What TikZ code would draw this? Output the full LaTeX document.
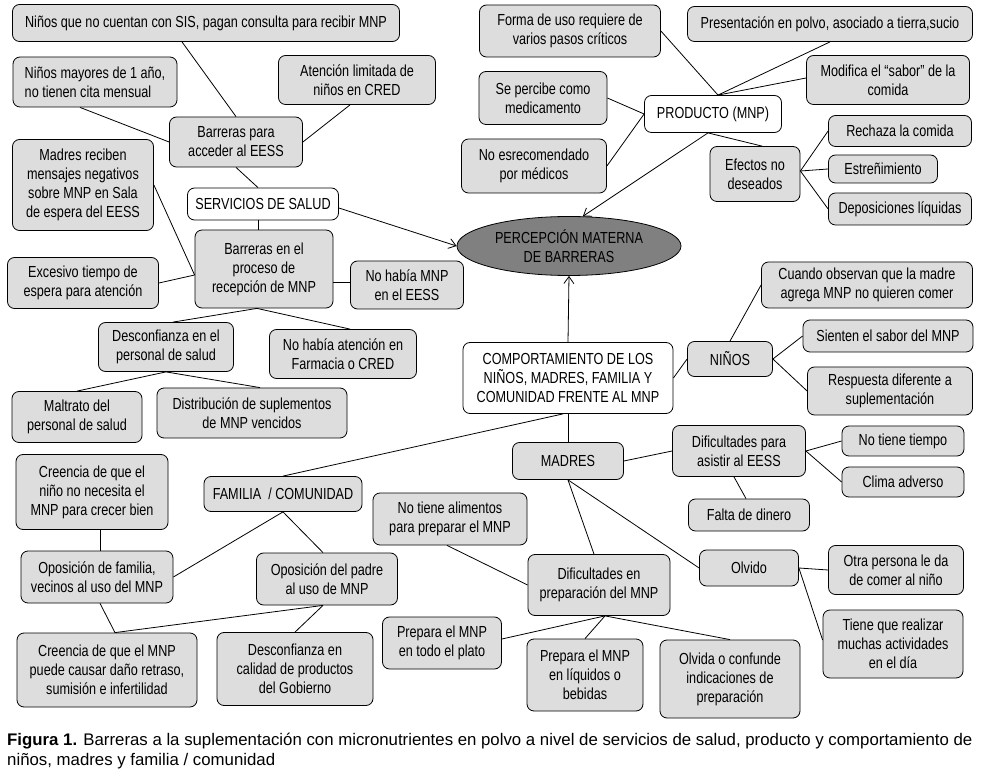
\documentclass[tikz,border=0pt]{standalone}
\usepackage{fontspec}
\setmainfont{Liberation Sans}[FakeStretch=0.79]
\newfontfamily\captionfont{Liberation Sans}
\usetikzlibrary{shapes.geometric,arrows.meta}
\definecolor{boxgray}{RGB}{221,221,221}
\definecolor{ovalgray}{RGB}{128,128,128}
\tikzset{
   caja/.style = {
      draw,
      rounded corners = 7pt,
      fill        = boxgray,
      align       = center,
      inner sep   = 2pt,
      line width  = 0.8pt,
      font        = \fontsize{16}{19}\selectfont
   },
   cajab/.style  = {caja, fill=white},
   linea/.style  = {line width=0.8pt},
   flecha/.style = {linea, -{Straight Barb[length=7pt,width=10pt]}}
}

\begin{document}
\begin{tikzpicture}[x=1pt, y=-1pt]
   \fill[white] (0,0) rectangle (983,775);
   \useasboundingbox (0,0) rectangle (983,775);

   % servicios de salud
   \node[caja, minimum width=387, minimum height=37] (sis) at (206,23) {Niños que no cuentan con SIS, pagan consulta para recibir MNP};
   \node[caja, minimum width=164, minimum height=50, align=left] (mayores) at (95,82) {Niños mayores de 1 año,\\no tienen cita mensual};
   \node[caja, minimum width=157, minimum height=49] (limitada) at (357,80) {Atención limitada de\\niños en CRED};
   \node[caja, minimum width=133, minimum height=50] (acceso) at (236,142) {Barreras para\\acceder al EESS};
   \node[caja, minimum width=141, minimum height=91] (mensajes) at (83,185) {Madres reciben\\mensajes negativos\\sobre MNP en Sala\\de espera del EESS};
   \node[cajab, minimum width=151, minimum height=32] (servicios) at (263,204) {SERVICIOS DE SALUD};
   \node[caja, minimum width=138, minimum height=78] (proceso) at (264,269) {Barreras en el\\proceso de\\recepción de MNP};
   \node[caja, minimum width=151, minimum height=51] (espera) at (83,283) {Excesivo tiempo de\\espera para atención};
   \node[caja, minimum width=113, minimum height=48] (nohabia) at (407,285) {No había MNP\\en el EESS};
   \node[caja, minimum width=135, minimum height=49] (desconf) at (166,347) {Desconfianza en el\\personal de salud};
   \node[caja, minimum width=147, minimum height=49] (farmacia) at (343,354) {No había atención en\\Farmacia o CRED};
   \node[caja, minimum width=130, minimum height=51] (maltrato) at (77,417) {Maltrato del\\personal de salud};
   \node[caja, minimum width=190, minimum height=50] (vencidos) at (252,413) {Distribución de suplementos\\de MNP vencidos};

   % producto
   \node[caja, minimum width=181, minimum height=52] (forma) at (570,31) {Forma de uso requiere de\\varios pasos críticos};
   \node[caja, minimum width=285, minimum height=35] (polvo) at (830,24) {Presentación en polvo, asociado a tierra,sucio};
   \node[caja, minimum width=163, minimum height=49] (sabor) at (888,80) {Modifica el “sabor” de la\\comida};
   \node[caja, minimum width=128, minimum height=53] (medic) at (543,98) {Se percibe como\\medicamento};
   \node[cajab, minimum width=137, minimum height=37] (producto) at (713,114) {PRODUCTO (MNP)};
   \node[caja, minimum width=145, minimum height=54] (medicos) at (534,166) {No esrecomendado\\por médicos};
   \node[caja, minimum width=90, minimum height=55] (efectos) at (755,174) {Efectos no\\deseados};
   \node[caja, minimum width=143, minimum height=31] (rechaza) at (900,131) {Rechaza la comida};
   \node[caja, minimum width=109, minimum height=28] (estren) at (883,169) {Estreñimiento};
   \node[caja, minimum width=143, minimum height=32] (depos) at (900,209) {Deposiciones líquidas};

   \node[ellipse, draw, line width=0.8pt, fill=ovalgray, inner sep=0pt, align=center,
      minimum width=224, minimum height=59, font=\fontsize{16}{19}\selectfont]
      (percep) at (569,246) {PERCEPCIÓN MATERNA\\DE BARRERAS};

   % comportamiento
   \node[cajab, minimum width=210, minimum height=71] (comport) at (568,378) {COMPORTAMIENTO DE LOS\\NIÑOS, MADRES, FAMILIA Y\\COMUNIDAD FRENTE AL MNP};
   \node[caja, minimum width=85, minimum height=35] (ninos) at (730,359) {NIÑOS};
   \node[caja, minimum width=211, minimum height=46] (cuando) at (867,285) {Cuando observan que la madre\\agrega MNP no quieren comer};
   \node[caja, minimum width=170, minimum height=32] (sienten) at (888,336) {Sienten el sabor del MNP};
   \node[caja, minimum width=165, minimum height=48] (respuesta) at (890,391) {Respuesta diferente a\\suplementación};
   \node[caja, minimum width=111, minimum height=37] (madres) at (568,461) {MADRES};
   \node[caja, minimum width=133, minimum height=51] (asistir) at (739,451) {Dificultades para\\asistir al EESS};
   \node[caja, minimum width=122, minimum height=30] (tiempo) at (903,441) {No tiene tiempo};
   \node[caja, minimum width=122, minimum height=30] (clima) at (903,482) {Clima adverso};
   \node[caja, minimum width=121, minimum height=32] (dinero) at (749,515) {Falta de dinero};
   \node[caja, minimum width=99, minimum height=36] (olvido) at (749,568) {Olvido};
   \node[caja, minimum width=135, minimum height=49] (otra) at (896,570) {Otra persona le da\\de comer al niño};
   \node[caja, minimum width=140, minimum height=68] (tiene) at (893,644) {Tiene que realizar\\muchas actividades\\en el día};
   \node[caja, minimum width=154, minimum height=52] (alimentos) at (450,519) {No tiene alimentos\\para preparar el MNP};
   \node[caja, minimum width=142, minimum height=61] (difprep) at (599,585) {Dificultades en\\preparación del MNP};
   \node[caja, minimum width=119, minimum height=52] (plato) at (442,643) {Prepara el MNP\\en todo el plato};
   \node[caja, minimum width=116, minimum height=72] (liquidos) at (585,675) {Prepara el MNP\\en líquidos o\\bebidas};
   \node[caja, minimum width=140, minimum height=78] (confunde) at (730,679) {Olvida o confunde\\indicaciones de\\preparación};

   % familia / comunidad
   \node[caja, minimum width=158, minimum height=35] (familia) at (283,494) {FAMILIA~ / COMUNIDAD};
   \node[caja, minimum width=152, minimum height=75] (creencia) at (92,492) {Creencia de que el\\niño no necesita el\\MNP para crecer bien};
   \node[caja, minimum width=152, minimum height=52] (opfam) at (97,577) {Oposición de familia,\\vecinos al uso del MNP};
   \node[caja, minimum width=141, minimum height=52] (oppadre) at (327,579) {Oposición del padre\\al uso de MNP};
   \node[caja, minimum width=180, minimum height=74] (dano) at (107,670) {Creencia de que el MNP\\puede causar daño retraso,\\sumisión e infertilidad};
   \node[caja, minimum width=156, minimum height=73] (gobierno) at (295,669) {Desconfianza en\\calidad de productos\\del Gobierno};

   % conectores
   \draw[linea] ([xshift=-24]sis.south) -- (acceso.north);
   \draw[linea] ([xshift=-15]mayores.south) -- (acceso.west);
   \draw[linea] ([xshift=-7]limitada.south) -- (acceso.east);
   \draw[linea] (acceso.south) -- ([xshift=-5]servicios.north);
   \draw[linea] ([xshift=-5]servicios.south) -- ([xshift=-6]proceso.north);
   \draw[linea] (mensajes.east) -- ([yshift=-6]proceso.west);
   \draw[linea] (espera.east) -- ([yshift=-6]proceso.west);
   \draw[linea] ([yshift=-13]proceso.east) -- ([yshift=3]nohabia.west);
   \draw[linea] ([xshift=-7]proceso.south) -- ([xshift=7]desconf.north);
   \draw[linea] ([xshift=-7]proceso.south) -- ([xshift=7]farmacia.north);
   \draw[linea] (desconf.south) -- (maltrato.north);
   \draw[linea] (desconf.south) -- ([xshift=8]vencidos.north);
   \draw[flecha] ([yshift=-4]servicios.east) -- (percep.west);

   \draw[linea] (forma.east) -- ([xshift=5]producto.north);
   \draw[linea] (polvo.south) -- ([xshift=5]producto.north);
   \draw[linea] ([yshift=2]sabor.west) -- ([xshift=5]producto.north);
   \draw[linea] (medic.east) -- (producto.west);
   \draw[linea] (medicos.east) -- (producto.west);
   \draw[linea] ([xshift=-5]producto.south) -- ([xshift=7]efectos.north);
   \draw[linea] ([yshift=3]efectos.east) -- (rechaza.west);
   \draw[linea] ([yshift=3]efectos.east) -- (estren.west);
   \draw[linea] ([yshift=3]efectos.east) -- (depos.west);
   \draw[flecha] ([xshift=-5]producto.south) -- (percep.65);

   \draw[flecha] (comport.north) -- (percep.south);
   \draw[linea] (comport.east) -- (ninos.west);
   \draw[linea] (ninos.north) -- (cuando.west);
   \draw[linea] (ninos.east) -- (sienten.west);
   \draw[linea] (ninos.east) -- (respuesta.west);
   \draw[linea] ([xshift=-5]comport.south) -- (familia.north);
   \draw[linea] (comport.south) -- (madres.north);
   \draw[linea] (madres.east) -- (asistir.west);
   \draw[linea] (asistir.east) -- (tiempo.west);
   \draw[linea] (asistir.east) -- (clima.west);
   \draw[linea] ([xshift=-5]asistir.south) -- ([xshift=-3]dinero.north);
   \draw[linea] (madres.south) -- ([xshift=-5]difprep.north);
   \draw[linea] (madres.south) -- (olvido.west);
   \draw[linea] (olvido.east) -- (otra.west);
   \draw[linea] (olvido.east) -- ([yshift=4]tiene.west);
   \draw[linea] ([xshift=-3]alimentos.south) -- (difprep.west);
   \draw[linea] ([xshift=6]difprep.south) -- ([yshift=4]plato.east);
   \draw[linea] ([xshift=6]difprep.south) -- (liquidos.north);
   \draw[linea] ([xshift=6]difprep.south) -- (confunde.north);

   \draw[linea] (familia.south) -- (opfam.east);
   \draw[linea] (familia.south) -- ([xshift=-4]oppadre.north);
   \draw[linea] ([xshift=8]creencia.south) -- ([xshift=3]opfam.north);
   \draw[linea] ([xshift=3]opfam.south) -- ([xshift=8]dano.north);
   \draw[linea] ([xshift=-4]oppadre.south) -- ([xshift=8]dano.north);
   \draw[linea] ([xshift=-4]oppadre.south) -- (gobierno.north);

   \node[anchor=north west, inner sep=0pt, align=left,
      font={\captionfont\fontsize{16.8}{19.5}\selectfont}] (leyenda) at (7,733)
      {\textbf{Figura 1.} Barreras a la suplementación con micronutrientes en polvo a nivel de servicios de salud, producto y comportamiento de\\niños, madres y familia / comunidad};
\end{tikzpicture}
\end{document}
